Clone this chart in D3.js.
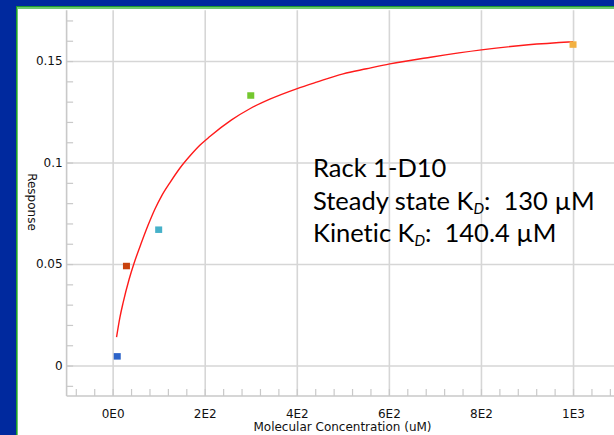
<!DOCTYPE html>
<html>
<head>
<meta charset="utf-8">
<script src="https://cdn.jsdelivr.net/npm/d3@7"></script>
<style>
  html, body { margin: 0; padding: 0; background: #00299e; }
  svg { display: block; }
  .tick-label { font-family: "DejaVu Sans", sans-serif; font-size: 12px; fill: #111; }
  .note { font-family: Lato, sans-serif; font-size: 25.5px; fill: #000; white-space: pre;
          font-variant-ligatures: none; }
</style>
</head>
<body>
<svg id="chart" width="614" height="435"></svg>
<script>
// Binding measurements: analyte concentration (uM) vs. equilibrium response
const concentrations = [10, 30, 100, 300, 1000];
const responses = [0.0044, 0.0489, 0.0668, 0.1329, 0.158];
const pointPalette = ["#2c63c9", "#c8420e", "#46b1c9", "#74c72f", "#f2b142"];

// Steady-state affinity fit, sampled along the concentration range
const fitConc = [8.5, 15.6, 22.8, 35.8, 46.7, 62.8, 77.1, 91.7, 106.2, 124.2, 145.9, 167.7,
                 189.4, 211.1, 258.3, 298.0, 341.4, 399.4, 442.9, 500.7, 551.5, 602.1,
                 690.5, 801.0, 903.1, 1000];
const fitResp = [0.0140, 0.0235, 0.0310, 0.0425, 0.0505, 0.0607, 0.0692, 0.0770, 0.0835,
                 0.0900, 0.0972, 0.1032, 0.1085, 0.1128, 0.1210, 0.1265, 0.1312, 0.1363,
                 0.1396, 0.1437, 0.1462, 0.1486, 0.1519, 0.1555, 0.1580, 0.1595];

// Axis ticks
const xMajorTicks = [0, 200, 400, 600, 800, 1000];
const xTickLabels = ["0E0", "2E2", "4E2", "6E2", "8E2", "1E3"];
const xMinorStep = 40;
const yMajorTicks = [0, 0.05, 0.1, 0.15];
const yTickLabels = ["0", "0.05", "0.1", "0.15"];
const yMinorStep = 0.01;

// Annotation lines
const noteTitle = "Rack 1-D10";
const steadyKd = "130 µM";
const kineticKd = "140.4 µM";

const W = 614, H = 435;
const svg = d3.select("#chart");

// Window frame: blue backdrop, green edge, white panel
svg.append("rect").attr("width", W).attr("height", H).attr("fill", "#00299e");
svg.append("rect").attr("x", 16).attr("y", 6).attr("width", W - 16).attr("height", H - 6).attr("fill", "#1c9a2c");
svg.append("rect").attr("x", 17).attr("y", 7).attr("width", W - 17).attr("height", H - 7).attr("fill", "#6cc870");
svg.append("rect").attr("x", 18).attr("y", 9).attr("width", W - 18).attr("height", H - 9).attr("fill", "#ffffff");

const plotLeft = 66.6, plotBottom = 396, plotTop = 10.3;
const x = d3.scaleLinear().domain([-100, 1100]).range([plotLeft, plotLeft + 1200 * 0.4604]);
const y = d3.scaleLinear().domain([-0.015, 0.175]).range([plotBottom, plotTop]);
const plotRight = x.range()[1];

const gridColor = "#d6d6d6";
const axisColor = "#c9c9c9";

// Gridlines
const gx = svg.append("g").attr("transform", `translate(0,${plotBottom})`)
  .call(d3.axisBottom(x).tickValues(xMajorTicks).tickSize(-(plotBottom - plotTop)).tickFormat(""));
gx.select(".domain").remove();
gx.selectAll("line").attr("stroke", gridColor).attr("stroke-width", 1.6);

const gy = svg.append("g").attr("transform", `translate(${plotLeft},0)`)
  .call(d3.axisLeft(y).tickValues(yMajorTicks).tickSize(-(plotRight - plotLeft)).tickFormat(""));
gy.select(".domain").remove();
gy.selectAll("line").attr("stroke", gridColor).attr("stroke-width", 1.6);

// Minor ticks pointing into the plot
const xMinor = d3.range(-80, 1100 + 1, xMinorStep);
const mx = svg.append("g").attr("transform", `translate(0,${plotBottom})`)
  .call(d3.axisBottom(x).tickValues(xMinor).tickSize(-7).tickFormat(""));
mx.select(".domain").remove();
mx.selectAll("line").attr("stroke", axisColor).attr("stroke-width", 1.2);

const yMinor = d3.range(-1, 18).map(i => i * yMinorStep);
const my = svg.append("g").attr("transform", `translate(${plotLeft},0)`)
  .call(d3.axisLeft(y).tickValues(yMinor).tickSize(-6.5).tickFormat(""));
my.select(".domain").remove();
my.selectAll("line").attr("stroke", axisColor).attr("stroke-width", 1.2);

// Axis lines
svg.append("line").attr("x1", plotLeft).attr("x2", plotLeft).attr("y1", plotTop).attr("y2", plotBottom)
  .attr("stroke", axisColor).attr("stroke-width", 1.6);
svg.append("line").attr("x1", plotLeft).attr("x2", W).attr("y1", plotBottom).attr("y2", plotBottom)
  .attr("stroke", axisColor).attr("stroke-width", 1.6);

// Tick labels
const lx = svg.append("g").attr("transform", `translate(0,${plotBottom})`)
  .call(d3.axisBottom(x).tickValues(xMajorTicks).tickSize(0).tickPadding(13)
    .tickFormat((d, i) => xTickLabels[i]));
lx.select(".domain").remove();
lx.selectAll("text").attr("class", "tick-label").style("font-family", "DejaVu Sans").style("font-size", "12px");

const ly = svg.append("g").attr("transform", `translate(${plotLeft},0)`)
  .call(d3.axisLeft(y).tickValues(yMajorTicks).tickSize(0).tickPadding(4)
    .tickFormat((d, i) => yTickLabels[i]));
ly.select(".domain").remove();
ly.selectAll("text").attr("class", "tick-label").style("font-family", "DejaVu Sans").style("font-size", "12px");

// Axis titles
svg.append("text").attr("class", "tick-label")
  .attr("x", 342.5).attr("y", 431).attr("text-anchor", "middle")
  .text("Molecular Concentration (uM)");
svg.append("text").attr("class", "tick-label")
  .attr("transform", "translate(28,202) rotate(90)").attr("text-anchor", "middle")
  .text("Response");

// Fitted curve
const fitLine = d3.line().x((d, i) => x(fitConc[i])).y(d => y(d)).curve(d3.curveMonotoneX);
svg.append("path").attr("d", fitLine(fitResp))
  .attr("fill", "none").attr("stroke", "#ff1a1a").attr("stroke-width", 1.4);

// Measured points
svg.append("g").selectAll("rect").data(responses).join("rect")
  .attr("x", (d, i) => x(concentrations[i]) - 3.5)
  .attr("y", d => y(d) - 3.5)
  .attr("width", 7).attr("height", 6.5)
  .attr("fill", (d, i) => pointPalette[i]);

// Annotation
const note = svg.append("g").attr("class", "note");
note.append("text").attr("x", 313).attr("y", 177).text(noteTitle);
function kdLine(yPos, label, value) {
  const t = note.append("text").attr("x", 313).attr("y", yPos).attr("xml:space", "preserve");
  t.append("tspan").text(label + " K");
  t.append("tspan").attr("font-size", "15px").attr("font-style", "italic").attr("dy", 4).text("D");
  t.append("tspan").attr("dy", -4).text(":  " + value);
}
kdLine(210, "Steady state", steadyKd);
kdLine(242, "Kinetic", kineticKd);
</script>
</body>
</html>
